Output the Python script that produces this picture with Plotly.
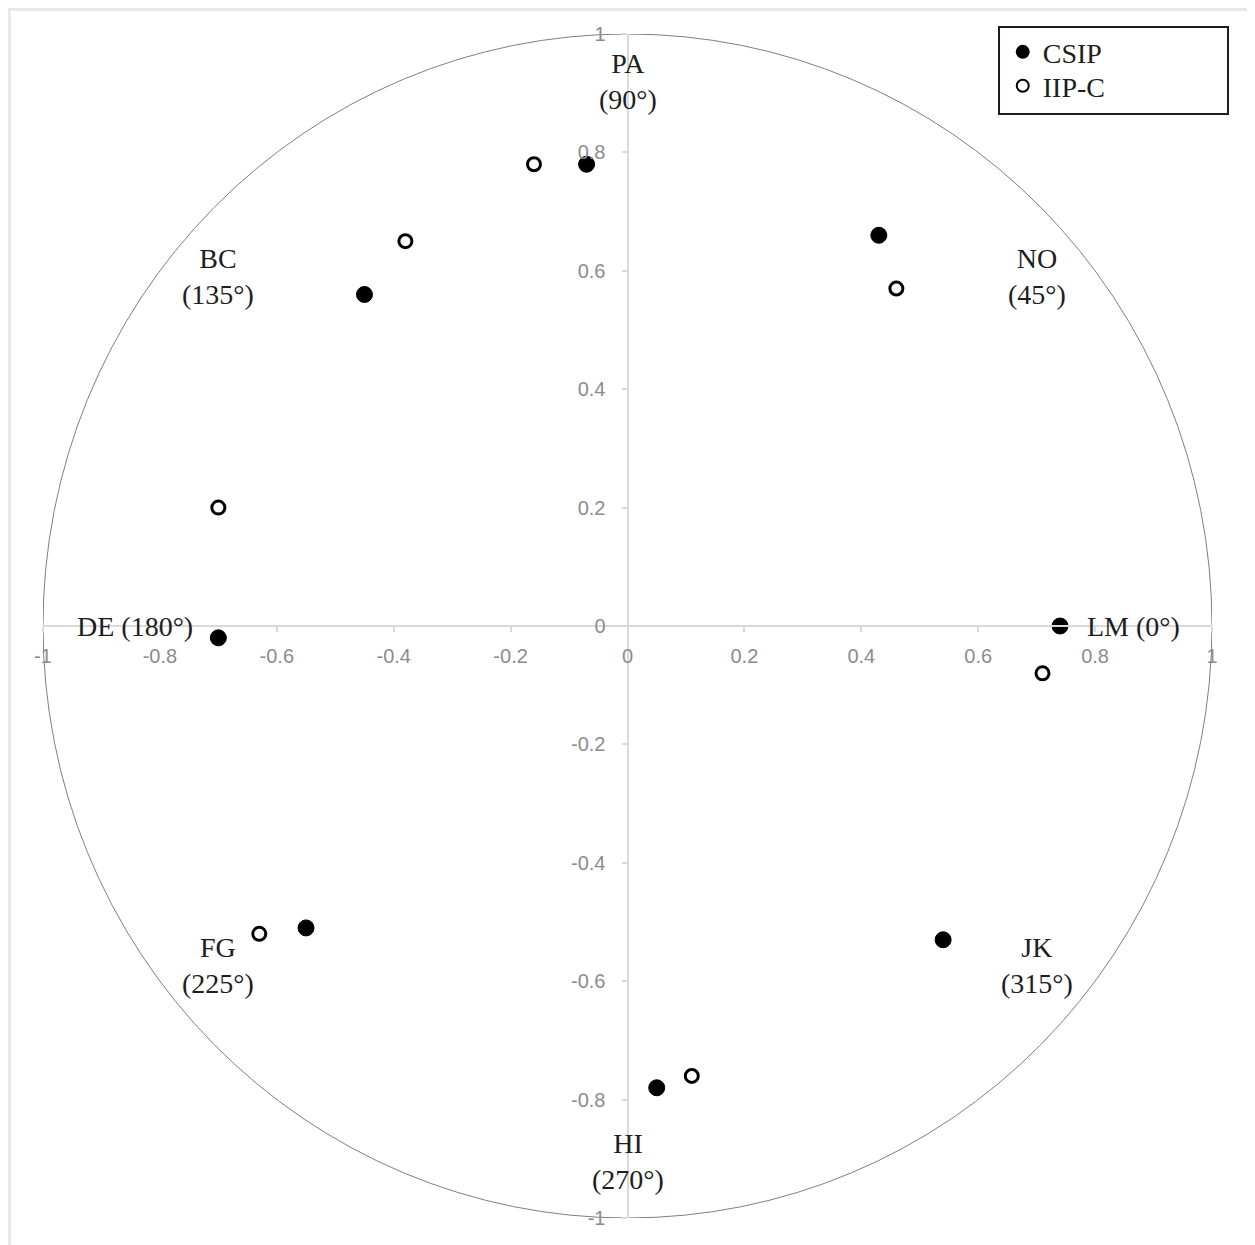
import plotly.graph_objects as go

# ---- data ----
csip_x = [-0.07, -0.45, 0.43, 0.74, 0.54, 0.05, -0.55, -0.70]
csip_y = [0.78, 0.56, 0.66, 0.00, -0.53, -0.78, -0.51, -0.02]

iipc_x = [-0.16, -0.38, 0.46, 0.71, 0.11, -0.63, -0.70]
iipc_y = [0.78, 0.65, 0.57, -0.08, -0.76, -0.52, 0.20]

octant_labels = ["PA<br>(90°)", "NO<br>(45°)", "LM (0°)", "JK<br>(315°)",
                 "HI<br>(270°)", "FG<br>(225°)", "DE (180°)", "BC<br>(135°)"]
octant_x = [0.0, 0.70, 0.865, 0.70, 0.0, -0.70, -0.843, -0.70]
octant_y = [0.92, 0.59, 0.0, -0.574, -0.905, -0.574, 0.0, 0.59]

tick_vals = [-1, -0.8, -0.6, -0.4, -0.2, 0, 0.2, 0.4, 0.6, 0.8, 1]
tick_text = ["-1", "-0.8", "-0.6", "-0.4", "-0.2", "0", "0.2", "0.4", "0.6", "0.8", "1"]

series_names = ["CSIP", "IIP-C"]

# ---- figure ----
fig = go.Figure()

fig.add_trace(go.Scatter(
    x=csip_x, y=csip_y, mode="markers", name=series_names[0], legend="legend",
    marker=dict(symbol="circle", size=16, color="black",
                line=dict(color="black", width=1)),
))
fig.add_trace(go.Scatter(
    x=iipc_x, y=iipc_y, mode="markers", name=series_names[1], legend="legend2",
    marker=dict(symbol="circle", size=13, color="white",
                line=dict(color="black", width=3)),
))

for t, x, y in zip(octant_labels, octant_x, octant_y):
    fig.add_annotation(x=x, y=y, xref="x", yref="y", text=t, showarrow=False,
                       font=dict(family="Liberation Serif", size=28, color="#1e1e1e"),
                       align="center", xanchor="center", yanchor="middle")

# unit circle
fig.add_shape(type="circle", xref="x", yref="y", x0=-1, y0=-1, x1=1, y1=1,
              line=dict(color="#7f7f7f", width=1), layer="below")

# outer chart border (bottom edge falls outside the page)
fig.add_shape(type="rect", xref="paper", yref="paper",
              x0=-0.0287, x1=1.0317, y0=-0.05, y1=1.0207,
              line=dict(color="#e8e8e8", width=3), layer="below")

# legend frame
fig.add_shape(type="rect", xref="paper", yref="paper",
              x0=0.8178, x1=1.0137, y0=0.9324, y1=1.0059,
              line=dict(color="#1e1e1e", width=2), fillcolor="white", layer="below")

axis_common = dict(
    range=[-1, 1], tickvals=tick_vals, ticktext=tick_text,
    showgrid=False, zeroline=False, showline=True,
    linecolor="#d9d9d9", linewidth=2,
    ticks="outside", ticklen=5, tickcolor="#d9d9d9", tickwidth=2,
    tickfont=dict(family="Liberation Sans", size=20, color="#8c8c8c"),
    anchor="free", position=0.5, fixedrange=True,
)
fig.update_xaxes(**axis_common, ticklabelstandoff=7)
fig.update_yaxes(**axis_common, ticklabelstandoff=12)

legend_style = dict(
    xanchor="left", yanchor="top", borderwidth=0, bgcolor="rgba(0,0,0,0)",
    font=dict(family="Liberation Serif", size=28, color="#1e1e1e"),
    itemsizing="constant",
)

fig.update_layout(
    width=1247, height=1237,
    margin=dict(l=35, r=43, t=26, b=27),
    plot_bgcolor="white", paper_bgcolor="white",
    showlegend=True,
    legend=dict(x=0.821, y=1.0058, **legend_style),
    legend2=dict(x=0.821, y=0.9771, **legend_style),
)

fig.write_html("out.html")
